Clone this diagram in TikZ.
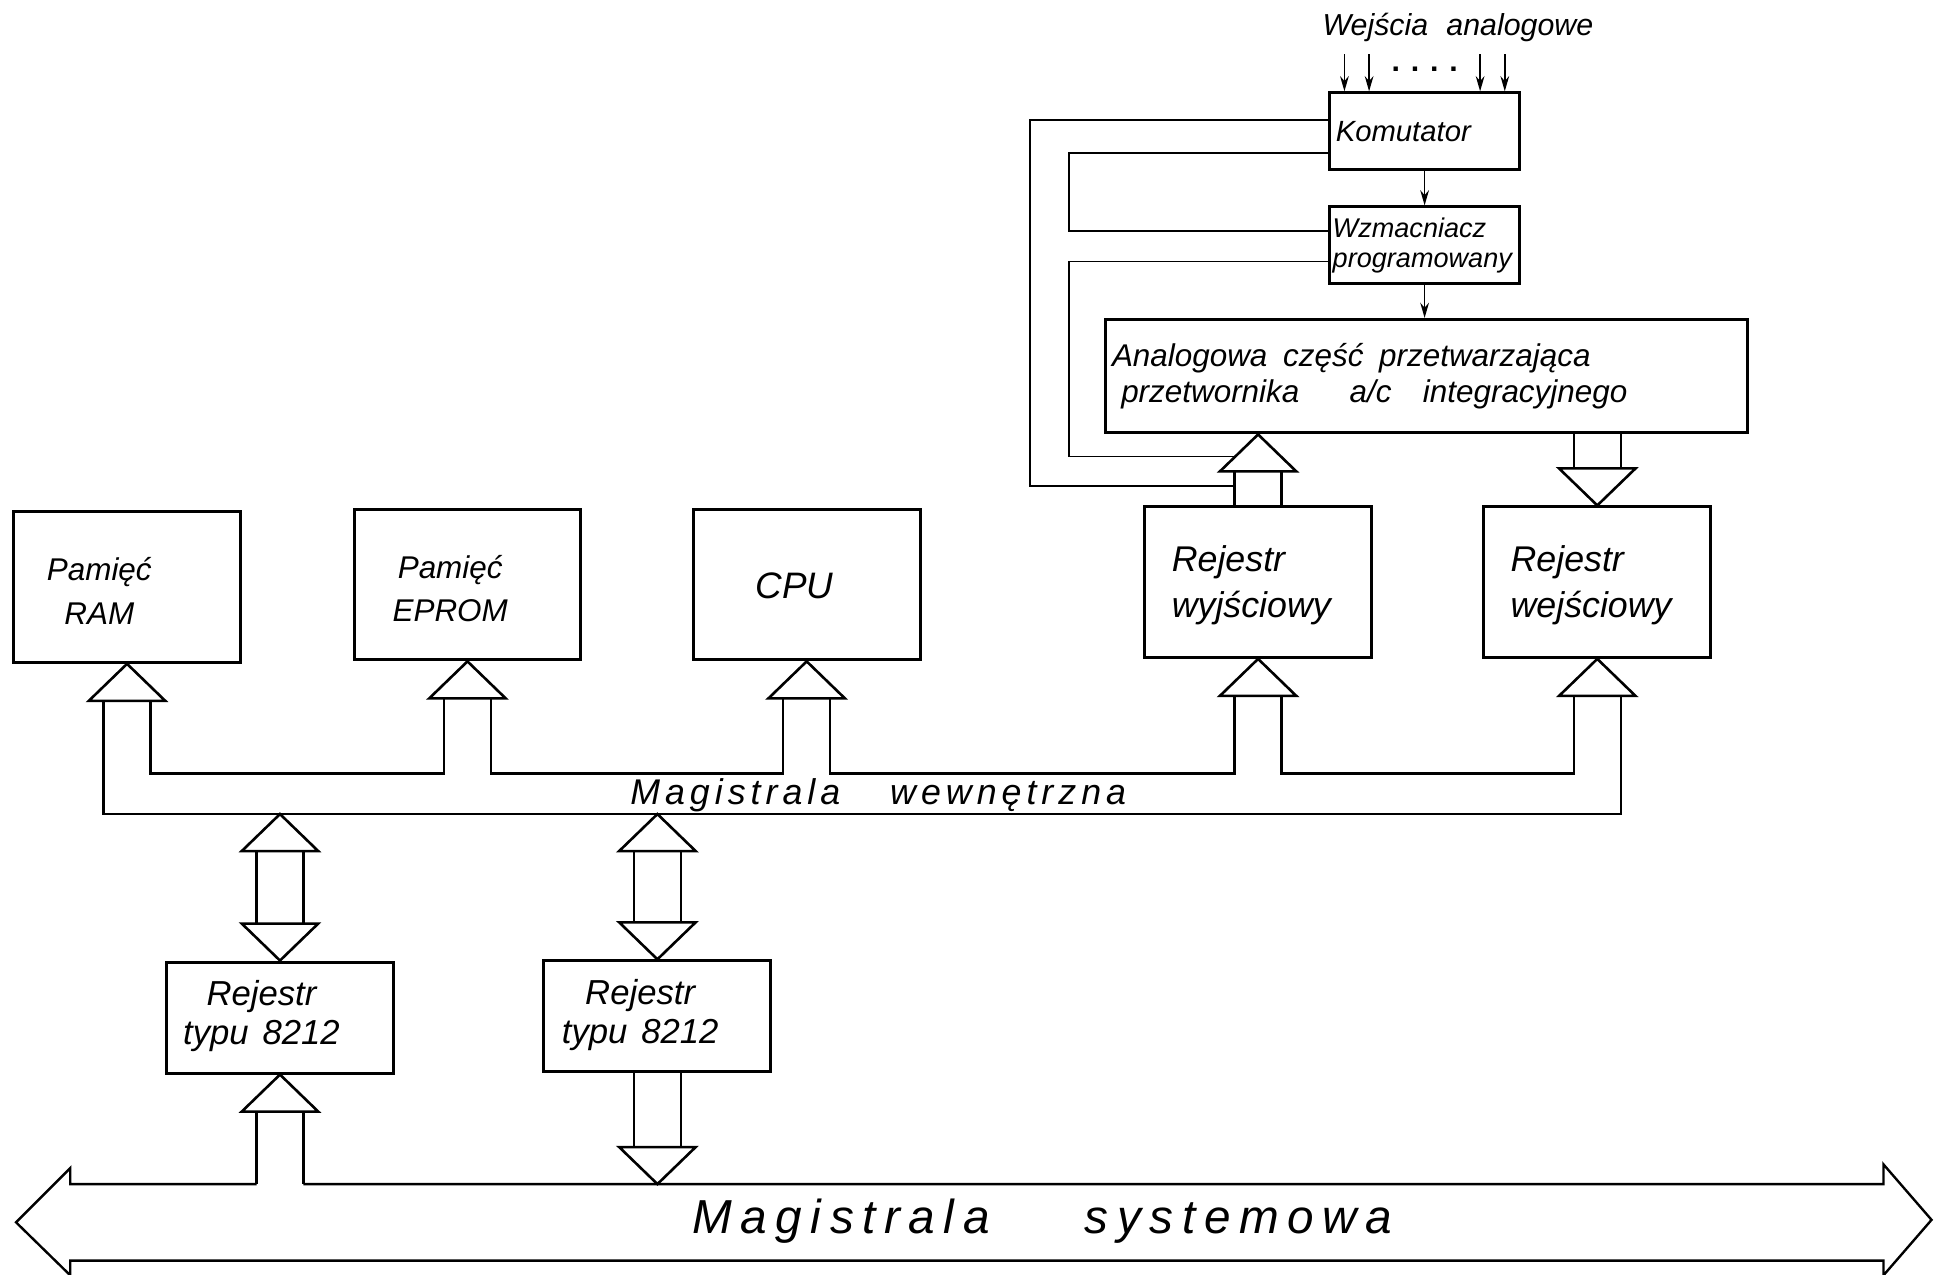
\documentclass[tikz,border=0pt]{standalone}
\usepackage{fontspec}
\setmainfont{Liberation Sans}
\newfontfamily\busfont{Liberation Sans}[LetterSpace=14]
\newfontfamily\sysfont{Liberation Sans}[LetterSpace=18]
\usetikzlibrary{arrows.meta}

% hollow bus arrow heads, apex at #1
\newcommand{\headup}[1]{\draw[bushead] (#1) -- ++(-31,30) -- ++(62,0) -- cycle;}
\newcommand{\headdown}[1]{\draw[bushead] (#1) -- ++(-31,-30) -- ++(62,0) -- cycle;}
% the two lines of a bus stem
\newcommand{\busstem}[2]{%
  \draw[busline] ([xshift=-0.38cm]#1) -- ([xshift=-0.38cm]#2);
  \draw[busline] ([xshift=0.38cm]#1) -- ([xshift=0.38cm]#2);}
% box text, set a little left of centre (and lowered by #1)
\newcommand{\boxtext}[4][0pt]{%
  \raisebox{-#1}[\height][\depth]{\begin{tabular}{@{}#2@{}}#4\end{tabular}}\hspace*{#3}}

\begin{document}
\begin{tikzpicture}[
    x=0.02cm, y=-0.02cm,
    unit/.style={draw, line width=1.4pt, inner sep=2pt,
                 minimum width=3.68cm, minimum height=2.44cm,
                 font=\itshape\fontsize{14.5}{20}\selectfont},
    regunit/.style={unit, minimum height=1.8cm,
                    font=\itshape\fontsize{16}{18}\selectfont},
    smallunit/.style={draw, line width=1.4pt, align=left, inner xsep=0.1cm,
                      text width=2.88cm, minimum height=1.25cm,
                      font=\itshape\fontsize{13.5}{15}\selectfont},
    bushead/.style={line width=1.2pt, line join=miter},
    busline/.style={line width=1.1pt},
    wire/.style={line width=0.8pt},
    sig/.style={wire, -{Stealth[length=7pt,width=4pt]}}
  ]
  \useasboundingbox (0,0) rectangle (1568,1033);

  % top row
  \node[unit] (ram)   at (103,476) {\boxtext[0.11cm]{c}{0.9cm}{Pamięć\\RAM}};
  \node[unit] (eprom) at (379,474) {\boxtext[0.11cm]{c}{0.56cm}{Pamięć\\EPROM}};
  \node[unit, font=\itshape\fontsize{17}{20}\selectfont] (cpu)
    at (654,474) {\boxtext[0.08cm]{c}{0.4cm}{CPU}};
  \node[unit, font=\itshape\fontsize{16.5}{21}\selectfont] (wyj)
    at (1020,472) {\boxtext[0.05cm]{l}{0.22cm}{Rejestr\\wyjściowy}};
  \node[unit, font=\itshape\fontsize{16.5}{21}\selectfont] (wej)
    at (1295,472) {\boxtext[0.05cm]{l}{0.2cm}{Rejestr\\wejściowy}};

  % 8212 registers
  \node[regunit] (reg1) at (227,825) {\boxtext{c}{0.6cm}{Rejestr\\typu\hspace{0.4em}8212}};
  \node[regunit] (reg2) at (533,824) {\boxtext{c}{0.56cm}{Rejestr\\typu\hspace{0.4em}8212}};

  % analog part
  \node[smallunit] (kom) at (1155,106.5) {Komutator};
  \node[smallunit, inner xsep=0.05cm, text width=2.98cm,
        font=\itshape\fontsize{12.5}{14}\selectfont] (wzm) at (1155,199)
    {Wzmacniacz\\programowany};
  \node[draw, line width=1.4pt, align=left, text width=10.2cm, inner xsep=0.11cm,
        minimum height=1.84cm, font=\itshape\fontsize{14.5}{17}\selectfont] (ana)
    at (1156.5,305)
    {Analogowa\hspace{0.5em}część\hspace{0.5em}przetwarzająca\\
     \hspace*{0.15cm}przetwornika\hspace{1.6em}a/c\hspace{1em}integracyjnego};

  \node[font=\itshape\fontsize{14}{16}\selectfont] (inlbl) at (1182,22)
    {Wejścia\hspace{0.6em}analogowe};
  \node[font=\bfseries\fontsize{14}{14}\selectfont] (dots) at (1155,56)
    {.\hspace{5pt}.\hspace{5pt}.\hspace{5pt}.};

  \foreach \dx in {-65,-45,45,65}
    \draw[sig] ([xshift=\dx*0.02cm]kom.north) ++(0,-30) -- ++(0,30);
  \draw[sig] (kom) -- (wzm);
  \draw[sig] (wzm) -- (wzm |- ana.north);

  % ana <-> registers
  \coordinate (wyjtip) at (wyj.north |- ana.south);
  \coordinate (wyj-top) at ([yshift=-0.6cm]wyjtip);
  \headup{wyjtip}
  \busstem{wyj-top}{wyj.north}
  \coordinate (wejtip) at (wej.north |- ana.south);
  \coordinate (wej-top) at ([yshift=0.6cm]wej.north);
  \busstem{wejtip}{wej-top}
  \headdown{wej.north}

  % feedback lines
  \coordinate (wyj-fb) at ([xshift=-0.38cm,yshift=0.32cm]wyj.north);
  \draw[wire] ([yshift=0.19cm]kom.west) -- ++(-242,0) |- (wyj-fb);
  \draw[wire] ([yshift=-0.35cm]kom.west) -- ++(-210,0) |- ([yshift=0.24cm]wzm.west);
  \draw[wire] ([yshift=-0.26cm]wzm.west) -- ++(-210,0)
    |- ([xshift=-0.37cm,yshift=-0.36cm]wyjtip);

  % internal bus
  \foreach \b in {ram,eprom,cpu,wyj,wej} {
    \headup{\b.south}
    \coordinate (\b-l) at ([xshift=-0.38cm,yshift=-0.6cm]\b.south);
    \coordinate (\b-r) at ([xshift=0.38cm,yshift=-0.6cm]\b.south);
  }
  \coordinate (inb) at (0,627);
  \coordinate (outb) at (0,660);
  \draw[busline] (ram-l) -- (ram-l |- outb) -- (wej-r |- outb) -- (wej-r);
  \foreach \a/\b in {ram/eprom,eprom/cpu,cpu/wyj,wyj/wej}
    \draw[busline] (\a-r) -- (\a-r |- inb) -- (\b-l |- inb) -- (\b-l);
  \node[font=\busfont\itshape\fontsize{16.5}{18}\selectfont] (intbus) at (712,645)
    {Magistrala\hspace{1.4em}wewnętrzna};

  % bus <-> 8212
  \foreach \r in {reg1,reg2} {
    \coordinate (\r-tip) at (\r.north |- outb);
    \coordinate (\r-a) at ([yshift=-0.6cm]\r-tip);
    \coordinate (\r-b) at ([yshift=0.6cm]\r.north);
    \headup{\r-tip}
    \busstem{\r-a}{\r-b}
    \headdown{\r.north}
  }

  % system bus
  \coordinate (systop) at (0,960);
  \headup{reg1.south}
  \coordinate (reg1-c) at ([yshift=-0.6cm]reg1.south);
  \coordinate (reg1-d) at (reg1-c |- systop);
  \busstem{reg1-c}{reg1-d}
  \coordinate (reg2-out) at (reg2.south |- systop);
  \coordinate (reg2-c) at ([yshift=0.6cm]reg2-out);
  \busstem{reg2.south}{reg2-c}
  \headdown{reg2-out}

  \draw[busline, line join=miter] ([xshift=-0.38cm]reg1-d) -- (57,960) -- (57,947)
    -- (13,991) -- (57,1034) -- (57,1022) -- (1527,1022) -- (1527,1034)
    -- (1566,989) -- (1527,944) -- (1527,960) -- ([xshift=0.38cm]reg1-d);
  \node[font=\sysfont\itshape\fontsize{22}{24}\selectfont] (sysbus) at (845,990)
    {Magistrala\hspace{2em}systemowa};
\end{tikzpicture}
\end{document}
